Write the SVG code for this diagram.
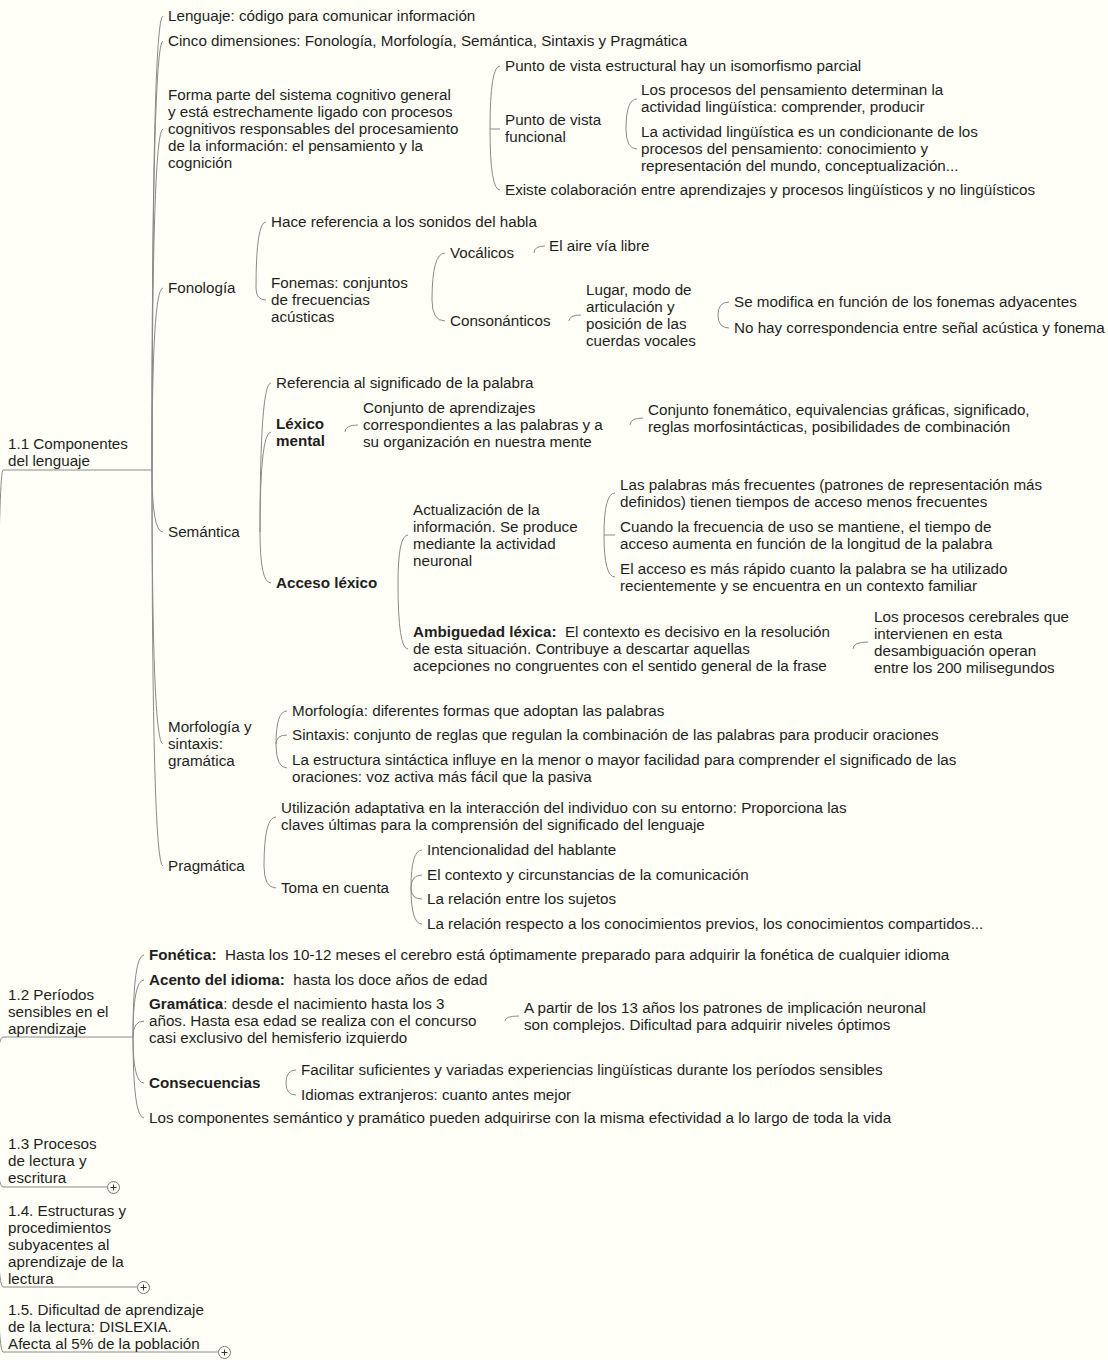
<svg xmlns="http://www.w3.org/2000/svg" width="1108" height="1360" viewBox="0 0 1108 1360">
<style>
text{font-family:"Liberation Sans",Arial,sans-serif;font-size:15.2px;fill:#1e1e1e}
.b{font-weight:bold}
.pre{white-space:pre}
#connectors path{fill:none;stroke:#8a8a8a;stroke-width:1}
.plus circle{fill:#fffff8;stroke:#777;stroke-width:1}
.plus path{stroke:#333;stroke-width:1}
</style>
<rect width="1108" height="1360" fill="#fffff7"/>
<g id="connectors">
<path d="M-4 1110 Q-4 470 3 470 H152"/>
<path d="M-4 1110 Q-4 1037 3 1037 H133"/>
<path d="M-4 1110 Q-4 1187 3 1187 H107"/>
<path d="M-4 1110 Q-4 1287 3 1287 H137"/>
<path d="M-4 1110 Q-4 1352 3 1352 H218"/>
<path d="M152 470 Q152 16 163 16"/>
<path d="M152 470 Q152 41 163 41"/>
<path d="M152 470 Q152 129 163 129"/>
<path d="M152 470 Q152 288 163 288"/>
<path d="M152 470 Q152 532 163 532"/>
<path d="M152 470 Q152 744 163 744"/>
<path d="M152 470 Q152 866 163 866"/>
<path d="M490 129 Q490 66 500 66"/>
<path d="M490 129 L500 129"/>
<path d="M490 129 Q490 190 500 190"/>
<path d="M626 129 Q626 99 637 99"/>
<path d="M626 129 Q626 149 637 149"/>
<path d="M256 288 Q256 222 266 222"/>
<path d="M256 288 Q256 300 266 300"/>
<path d="M432 300 Q432 253 445 253"/>
<path d="M432 300 Q432 321 445 321"/>
<path d="M534 253 Q534 246 545 246"/>
<path d="M569 321 Q569 315 581 315"/>
<path d="M718 315 Q718 302 729 302"/>
<path d="M718 315 Q718 328 729 328"/>
<path d="M260 532 Q260 383 271 383"/>
<path d="M260 532 Q260 432 271 432"/>
<path d="M260 532 Q260 583 271 583"/>
<path d="M345 432 Q345 425 358 425"/>
<path d="M630 425 Q630 418 643 418"/>
<path d="M398 583 Q398 535 408 535"/>
<path d="M398 583 Q398 649 408 649"/>
<path d="M604 535 Q604 493 615 493"/>
<path d="M604 535 L615 535"/>
<path d="M604 535 Q604 577 615 577"/>
<path d="M853 649 Q853 642 868 642"/>
<path d="M276 744 Q276 711 287 711"/>
<path d="M276 744 Q276 735 287 735"/>
<path d="M276 744 Q276 768 287 768"/>
<path d="M264 866 Q264 817 276 817"/>
<path d="M264 866 Q264 888 276 888"/>
<path d="M411 888 Q411 850 422 850"/>
<path d="M411 888 Q411 875 422 875"/>
<path d="M411 888 Q411 899 422 899"/>
<path d="M411 888 Q411 924 422 924"/>
<path d="M133 1037 Q133 955 144 955"/>
<path d="M133 1037 Q133 980 144 980"/>
<path d="M133 1037 Q133 1021 144 1021"/>
<path d="M133 1037 Q133 1083 144 1083"/>
<path d="M133 1037 Q133 1118 144 1118"/>
<path d="M505 1021 Q505 1016 519 1016"/>
<path d="M286 1083 Q286 1070 296 1070"/>
<path d="M286 1083 Q286 1095 296 1095"/>
</g>
<g id="n11"><text x="8" y="449">1.1 Componentes<tspan x="8" dy="17">del lenguaje</tspan></text></g>
<g id="n-lenguaje"><text x="168" y="21">Lenguaje: código para comunicar información</text></g>
<g id="n-cinco"><text x="168" y="46">Cinco dimensiones: Fonología, Morfología, Semántica, Sintaxis y Pragmática</text></g>
<g id="n-forma"><text x="168" y="100">Forma parte del sistema cognitivo general<tspan x="168" dy="17">y está estrechamente ligado con procesos</tspan><tspan x="168" dy="17">cognitivos responsables del procesamiento</tspan><tspan x="168" dy="17">de la información: el pensamiento y la</tspan><tspan x="168" dy="17">cognición</tspan></text></g>
<g id="n-estructural"><text x="505" y="71">Punto de vista estructural hay un isomorfismo parcial</text></g>
<g id="n-funcional"><text x="505" y="125">Punto de vista<tspan x="505" dy="17">funcional</tspan></text></g>
<g id="n-procesos"><text x="641" y="95">Los procesos del pensamiento determinan la<tspan x="641" dy="17">actividad lingüística: comprender, producir</tspan></text></g>
<g id="n-actividad"><text x="641" y="137">La actividad lingüística es un condicionante de los<tspan x="641" dy="17">procesos del pensamiento: conocimiento y</tspan><tspan x="641" dy="17">representación del mundo, conceptualización...</tspan></text></g>
<g id="n-colaboracion"><text x="505" y="195">Existe colaboración entre aprendizajes y procesos lingüísticos y no lingüísticos</text></g>
<g id="n-fonologia"><text x="168" y="293">Fonología</text></g>
<g id="n-sonidos"><text x="271" y="227">Hace referencia a los sonidos del habla</text></g>
<g id="n-fonemas"><text x="271" y="288">Fonemas: conjuntos<tspan x="271" dy="17">de frecuencias</tspan><tspan x="271" dy="17">acústicas</tspan></text></g>
<g id="n-vocalicos"><text x="450" y="258">Vocálicos</text></g>
<g id="n-aire"><text x="549" y="251">El aire vía libre</text></g>
<g id="n-consonanticos"><text x="450" y="326">Consonánticos</text></g>
<g id="n-lugar"><text x="586" y="295">Lugar, modo de<tspan x="586" dy="17">articulación y</tspan><tspan x="586" dy="17">posición de las</tspan><tspan x="586" dy="17">cuerdas vocales</tspan></text></g>
<g id="n-modifica"><text x="734" y="307">Se modifica en función de los fonemas adyacentes</text></g>
<g id="n-nohay"><text x="734" y="333">No hay correspondencia entre señal acústica y fonema</text></g>
<g id="n-semantica"><text x="168" y="537">Semántica</text></g>
<g id="n-referencia"><text x="276" y="388">Referencia al significado de la palabra</text></g>
<g id="n-lexico"><text class="b" x="276" y="429">Léxico<tspan x="276" dy="17">mental</tspan></text></g>
<g id="n-conjunto"><text x="363" y="413">Conjunto de aprendizajes<tspan x="363" dy="17">correspondientes a las palabras y a</tspan><tspan x="363" dy="17">su organización en nuestra mente</tspan></text></g>
<g id="n-fonematico"><text x="648" y="415">Conjunto fonemático, equivalencias gráficas, significado,<tspan x="648" dy="17">reglas morfosintácticas, posibilidades de combinación</tspan></text></g>
<g id="n-acceso"><text class="b" x="276" y="588">Acceso léxico</text></g>
<g id="n-actualizacion"><text x="413" y="515">Actualización de la<tspan x="413" dy="17">información. Se produce</tspan><tspan x="413" dy="17">mediante la actividad</tspan><tspan x="413" dy="17">neuronal</tspan></text></g>
<g id="n-frecuentes"><text x="620" y="490">Las palabras más frecuentes (patrones de representación más<tspan x="620" dy="17">definidos) tienen tiempos de acceso menos frecuentes</tspan></text></g>
<g id="n-cuando"><text x="620" y="532">Cuando la frecuencia de uso se mantiene, el tiempo de<tspan x="620" dy="17">acceso aumenta en función de la longitud de la palabra</tspan></text></g>
<g id="n-rapido"><text x="620" y="574">El acceso es más rápido cuanto la palabra se ha utilizado<tspan x="620" dy="17">recientemente y se encuentra en un contexto familiar</tspan></text></g>
<g id="n-ambiguedad"><text class="pre" x="413" y="637"><tspan class="b">Ambiguedad léxica:</tspan>  El contexto es decisivo en la resolución<tspan x="413" dy="17">de esta situación. Contribuye a descartar aquellas</tspan><tspan x="413" dy="17">acepciones no congruentes con el sentido general de la frase</tspan></text></g>
<g id="n-cerebrales"><text x="874" y="622">Los procesos cerebrales que<tspan x="874" dy="17">intervienen en esta</tspan><tspan x="874" dy="17">desambiguación operan</tspan><tspan x="874" dy="17">entre los 200 milisegundos</tspan></text></g>
<g id="n-morfosintaxis"><text x="168" y="732">Morfología y<tspan x="168" dy="17">sintaxis:</tspan><tspan x="168" dy="17">gramática</tspan></text></g>
<g id="n-morfologia"><text x="292" y="716">Morfología: diferentes formas que adoptan las palabras</text></g>
<g id="n-sintaxis"><text x="292" y="740">Sintaxis: conjunto de reglas que regulan la combinación de las palabras para producir oraciones</text></g>
<g id="n-estructura"><text x="292" y="765">La estructura sintáctica influye en la menor o mayor facilidad para comprender el significado de las<tspan x="292" dy="17">oraciones: voz activa más fácil que la pasiva</tspan></text></g>
<g id="n-pragmatica"><text x="168" y="871">Pragmática</text></g>
<g id="n-utilizacion"><text x="281" y="813">Utilización adaptativa en la interacción del individuo con su entorno: Proporciona las<tspan x="281" dy="17">claves últimas para la comprensión del significado del lenguaje</tspan></text></g>
<g id="n-toma"><text x="281" y="893">Toma en cuenta</text></g>
<g id="n-intencionalidad"><text x="427" y="855">Intencionalidad del hablante</text></g>
<g id="n-contexto"><text x="427" y="880">El contexto y circunstancias de la comunicación</text></g>
<g id="n-sujetos"><text x="427" y="904">La relación entre los sujetos</text></g>
<g id="n-previos"><text x="427" y="929">La relación respecto a los conocimientos previos, los conocimientos compartidos...</text></g>
<g id="n12"><text x="8" y="1000">1.2 Períodos<tspan x="8" dy="17">sensibles en el</tspan><tspan x="8" dy="17">aprendizaje</tspan></text></g>
<g id="n-fonetica"><text class="pre" x="149" y="960"><tspan class="b">Fonética:</tspan>  Hasta los 10-12 meses el cerebro está óptimamente preparado para adquirir la fonética de cualquier idioma</text></g>
<g id="n-acento"><text class="pre" x="149" y="985"><tspan class="b">Acento del idioma:</tspan>  hasta los doce años de edad</text></g>
<g id="n-gramatica"><text x="149" y="1009"><tspan class="b">Gramática</tspan>: desde el nacimiento hasta los 3<tspan x="149" dy="17">años. Hasta esa edad se realiza con el concurso</tspan><tspan x="149" dy="17">casi exclusivo del hemisferio izquierdo</tspan></text></g>
<g id="n-apartir"><text x="524" y="1013">A partir de los 13 años los patrones de implicación neuronal<tspan x="524" dy="17">son complejos. Dificultad para adquirir niveles óptimos</tspan></text></g>
<g id="n-consecuencias"><text class="b" x="149" y="1088">Consecuencias</text></g>
<g id="n-facilitar"><text x="301" y="1075">Facilitar suficientes y variadas experiencias lingüísticas durante los períodos sensibles</text></g>
<g id="n-idiomas"><text x="301" y="1100">Idiomas extranjeros: cuanto antes mejor</text></g>
<g id="n-componentes"><text x="149" y="1123">Los componentes semántico y pramático pueden adquirirse con la misma efectividad a lo largo de toda la vida</text></g>
<g id="n13"><text x="8" y="1149">1.3 Procesos<tspan x="8" dy="17">de lectura y</tspan><tspan x="8" dy="17">escritura</tspan></text>
<g class="plus"><circle cx="113.5" cy="1187.5" r="6"/><path d="M110.5 1187.5 H116.5 M113.5 1184.5 V1190.5"/></g></g>
<g id="n14"><text x="8" y="1216">1.4. Estructuras y<tspan x="8" dy="17">procedimientos</tspan><tspan x="8" dy="17">subyacentes al</tspan><tspan x="8" dy="17">aprendizaje de la</tspan><tspan x="8" dy="17">lectura</tspan></text>
<g class="plus"><circle cx="143.5" cy="1287.5" r="6"/><path d="M140.5 1287.5 H146.5 M143.5 1284.5 V1290.5"/></g></g>
<g id="n15"><text x="8" y="1315">1.5. Dificultad de aprendizaje<tspan x="8" dy="17">de la lectura: DISLEXIA.</tspan><tspan x="8" dy="17">Afecta al 5% de la población</tspan></text>
<g class="plus"><circle cx="224.5" cy="1352.5" r="6"/><path d="M221.5 1352.5 H227.5 M224.5 1349.5 V1355.5"/></g></g>
</svg>
